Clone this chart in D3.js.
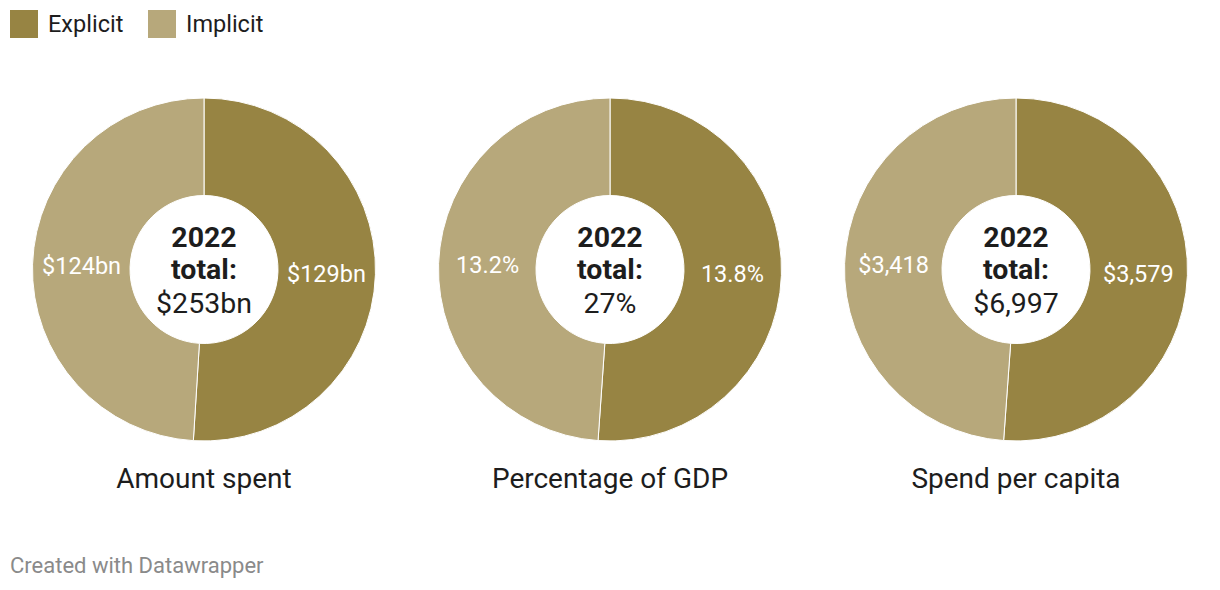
<!DOCTYPE html>
<html><head><meta charset="utf-8">
<script src="https://cdn.jsdelivr.net/npm/d3@7"></script>
<style>
body{margin:0;background:#fff;font-family:Roboto,"Noto Sans",sans-serif;}
</style></head>
<body><svg id="c" width="1220" height="590"></svg>
<script>
const seriesNames = ["Explicit", "Implicit"];
const colors = ["#978443", "#b7a87b"];
const chartTitles = ["Amount spent", "Percentage of GDP", "Spend per capita"];
const explicitValues = [129, 13.8, 3579];
const implicitValues = [124, 13.2, 3418];
const explicitLabels = ["$129bn", "13.8%", "$3,579"];
const implicitLabels = ["$124bn", "13.2%", "$3,418"];
const totalLabels = ["$253bn", "27%", "$6,997"];

const svg = d3.select("#c");
const color = d3.scaleOrdinal().domain(seriesNames).range(colors);

// legend
const leg = svg.append("g");
const legX = [10, 148];
seriesNames.forEach((s,i)=>{
  leg.append("rect").attr("x",legX[i]).attr("y",10).attr("width",28).attr("height",28).attr("fill",color(s));
  leg.append("text").attr("x",legX[i]+38).attr("y",32).attr("font-size",23.5).attr("fill","#1d1d1d").text(s);
});

const cx = d3.scalePoint().domain(chartTitles).range([204,1016]);
const cy = 269.5, rOuter = 171.5, rInner = 74;
const pie = d3.pie().sort(null).value(d=>d.v);
const arc = d3.arc().innerRadius(rInner).outerRadius(rOuter);
const labelArc = d3.arc().innerRadius(122.5).outerRadius(122.5);

chartTitles.forEach((t,i)=>{
  const data = [
    {k:seriesNames[0], v:explicitValues[i], l:explicitLabels[i]},
    {k:seriesNames[1], v:implicitValues[i], l:implicitLabels[i]}
  ];
  const g = svg.append("g").attr("transform",`translate(${cx(t)},${cy})`);
  const arcs = pie(data);
  g.selectAll("path").data(arcs).join("path")
    .attr("d",arc).attr("fill",d=>color(d.data.k))
    .attr("stroke","#fff").attr("stroke-width",1);
  g.selectAll("text.lab").data(arcs).join("text").attr("class","lab")
    .attr("x",d=>labelArc.centroid(d)[0]).attr("y",d=>labelArc.centroid(d)[1])
    .attr("dy","0.35em").attr("text-anchor","middle")
    .attr("font-size",23.5).attr("fill","#fff").text(d=>d.data.l);
  const ct = g.append("text").attr("text-anchor","middle").attr("fill","#1d1d1d").attr("font-size",28.5);
  ct.append("tspan").attr("x",0).attr("y",-32).attr("dy","0.35em").attr("font-weight","bold").text("2022");
  ct.append("tspan").attr("x",0).attr("y",0).attr("dy","0.35em").attr("font-weight","bold").text("total:");
  ct.append("tspan").attr("x",0).attr("y",34).attr("dy","0.35em").text(totalLabels[i]);
  svg.append("text").attr("x",cx(t)).attr("y",488).attr("text-anchor","middle")
    .attr("font-size",28).attr("fill","#1d1d1d").text(t);
});

svg.append("text").attr("x",10).attr("y",573).attr("font-size",22).attr("fill","#8a8a8a").text("Created with Datawrapper");
</script></body></html>
